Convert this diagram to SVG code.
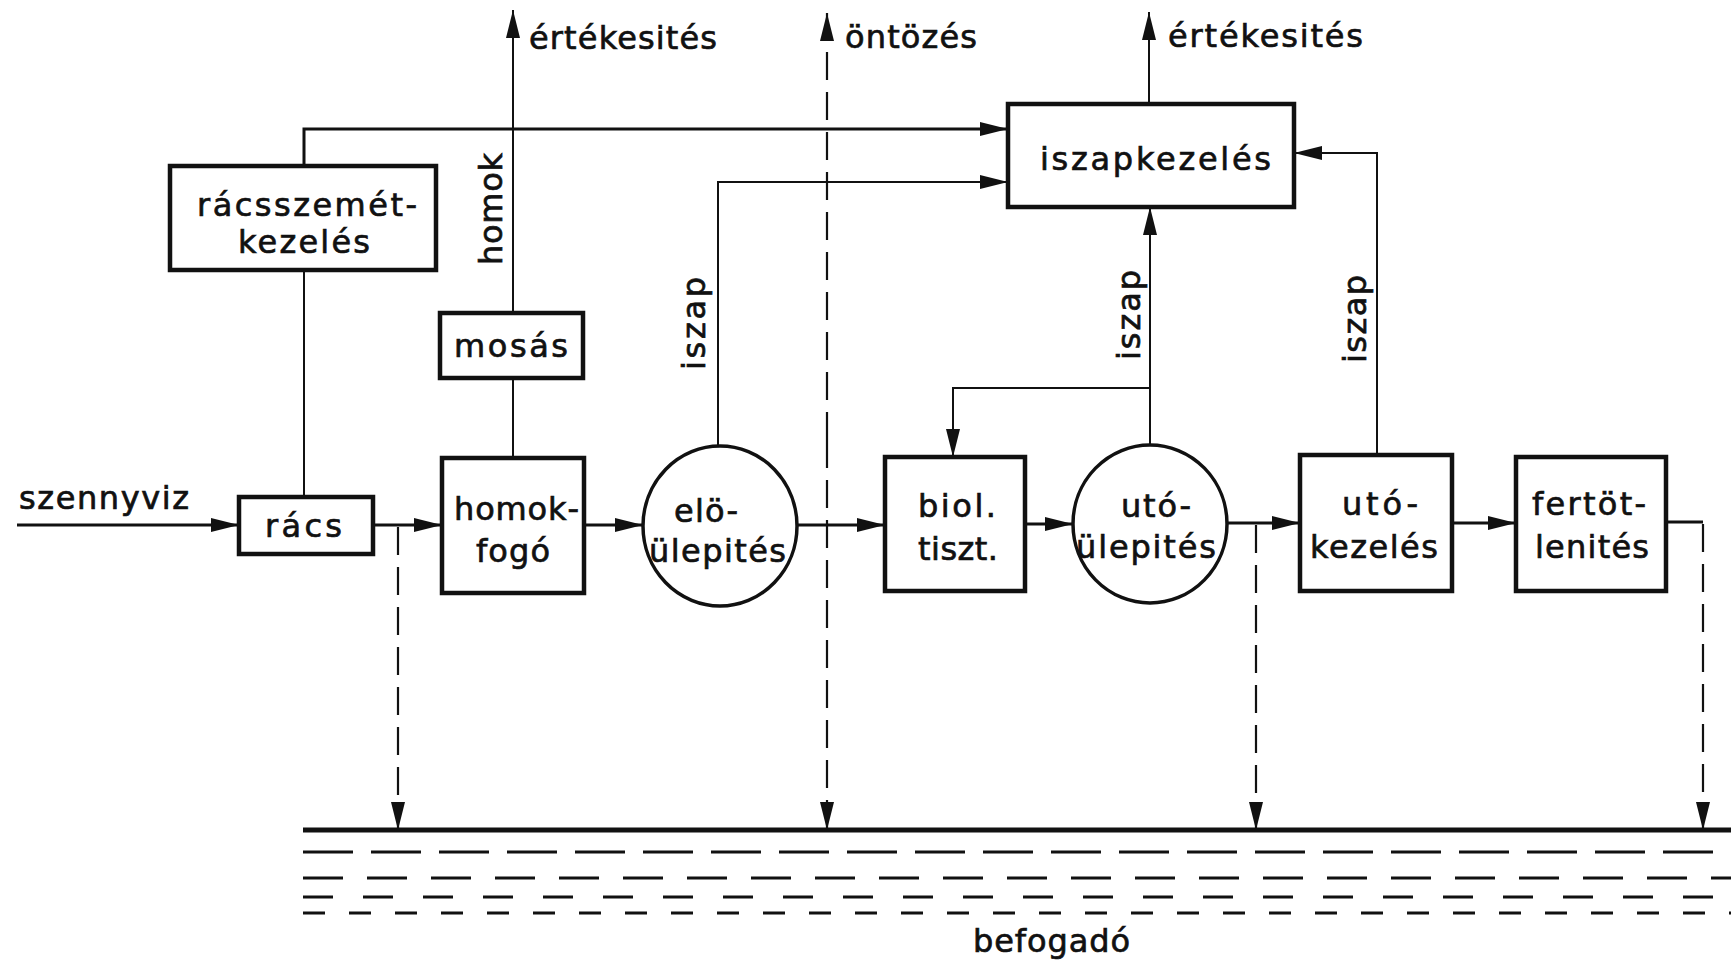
<svg xmlns="http://www.w3.org/2000/svg" width="1731" height="962" viewBox="0 0 1731 962">
<style>
.box{fill:#fff;stroke:#111;stroke-width:4.5}
.ell{fill:#fff;stroke:#111;stroke-width:3.5}
.t{font-family:"DejaVu Sans","Liberation Sans",sans-serif;font-size:32px;fill:#111;stroke:#111;stroke-width:0.7}
.flow{fill:none;stroke:#111;stroke-width:3}
.thin{fill:none;stroke:#111;stroke-width:2}
.dash{fill:none;stroke:#111;stroke-width:2.2;stroke-dasharray:28 12}
.water{fill:none;stroke:#111;stroke-width:3}
</style>
<defs>
<marker id="arr" viewBox="0 0 28 14" refX="28" refY="7" markerWidth="28" markerHeight="14" markerUnits="userSpaceOnUse" orient="auto">
<path d="M0,0 L28,7 L0,14 z" fill="#111"/>
</marker>
</defs>
<rect x="0" y="0" width="1731" height="962" fill="#fff"/>

<g id="connectors">
<path class="flow" d="M17,525 H239" marker-end="url(#arr)"/>
<path class="flow" d="M373,525 H442" marker-end="url(#arr)"/>
<path class="flow" d="M584,525 H643" marker-end="url(#arr)"/>
<path class="flow" d="M797,525 H885" marker-end="url(#arr)"/>
<path class="flow" d="M1025,524 H1073" marker-end="url(#arr)"/>
<path class="flow" d="M1227,523 H1300" marker-end="url(#arr)"/>
<path class="flow" d="M1452,523 H1516" marker-end="url(#arr)"/>
<path class="flow" d="M1666,522 H1703"/>
<path class="dash" d="M1703,524 V830" marker-end="url(#arr)"/>
<path class="dash" d="M398,527 V830" marker-end="url(#arr)"/>
<path class="dash" d="M1256,525 V830" marker-end="url(#arr)"/>
<path class="dash" d="M827,440 V13" marker-end="url(#arr)"/>
<path class="dash" d="M827,440 V830" marker-end="url(#arr)"/>
<path class="thin" d="M304,497 V271"/>
<path class="flow" d="M304,166 V129 H1008" marker-end="url(#arr)"/>
<path class="thin" d="M513,458 V378"/>
<path class="thin" d="M513,313 V10" marker-end="url(#arr)"/>
<path class="thin" d="M718,446 V182 H1008" marker-end="url(#arr)"/>
<path class="thin" d="M1150,445 V207" marker-end="url(#arr)"/>
<path class="thin" d="M1150,388 H953 V457" marker-end="url(#arr)"/>
<path class="thin" d="M1377,455 V153 H1294" marker-end="url(#arr)"/>
<path class="thin" d="M1149,104 V12" marker-end="url(#arr)"/>
</g>

<g id="labels">
<text class="t" x="529" y="49" textLength="188" lengthAdjust="spacing">értékesités</text>
<text class="t" x="845" y="48" textLength="132" lengthAdjust="spacing">öntözés</text>
<text class="t" x="1168" y="47" textLength="195" lengthAdjust="spacing">értékesités</text>
<text class="t" x="19" y="509" textLength="170" lengthAdjust="spacing">szennyviz</text>
<text class="t" transform="translate(502,265) rotate(-90)" textLength="112" lengthAdjust="spacing">homok</text>
<text class="t" transform="translate(705,370) rotate(-90)" textLength="93" lengthAdjust="spacing">iszap</text>
<text class="t" transform="translate(1140,360) rotate(-90)" textLength="90" lengthAdjust="spacing">iszap</text>
<text class="t" transform="translate(1366,363) rotate(-90)" textLength="88" lengthAdjust="spacing">iszap</text>
</g>

<g id="racsszemet-kezeles">
<rect class="box" x="170" y="166" width="266" height="104"/>
<text class="t" x="197" y="216" textLength="220" lengthAdjust="spacing">rácsszemét-</text>
<text class="t" x="238" y="253" textLength="132" lengthAdjust="spacing">kezelés</text>
</g>
<g id="mosas">
<rect class="box" x="440" y="313" width="143" height="65"/>
<text class="t" x="454" y="357" textLength="114" lengthAdjust="spacing">mosás</text>
</g>
<g id="racs">
<rect class="box" x="239" y="497" width="134" height="57"/>
<text class="t" x="265" y="537" textLength="77" lengthAdjust="spacing">rács</text>
</g>
<g id="homokfogo">
<rect class="box" x="442" y="458" width="142" height="135"/>
<text class="t" x="454" y="520" textLength="125" lengthAdjust="spacing">homok-</text>
<text class="t" x="476" y="562" textLength="74" lengthAdjust="spacing">fogó</text>
</g>
<g id="eloulepites">
<ellipse class="ell" cx="720" cy="526" rx="77" ry="80"/>
<text class="t" x="674" y="522" textLength="64" lengthAdjust="spacing">elö-</text>
<text class="t" x="649" y="562" textLength="137" lengthAdjust="spacing">ülepités</text>
</g>
<g id="biol-tiszt">
<rect class="box" x="885" y="457" width="140" height="134"/>
<text class="t" x="918" y="517" textLength="78" lengthAdjust="spacing">biol.</text>
<text class="t" x="918" y="560" textLength="80" lengthAdjust="spacing">tiszt.</text>
</g>
<g id="utoulepites">
<ellipse class="ell" cx="1150" cy="524" rx="77" ry="79"/>
<text class="t" x="1121" y="517" textLength="70" lengthAdjust="spacing">utó-</text>
<text class="t" x="1076" y="558" textLength="140" lengthAdjust="spacing">ülepités</text>
</g>
<g id="utokezeles">
<rect class="box" x="1300" y="455" width="152" height="136"/>
<text class="t" x="1342" y="515" textLength="76" lengthAdjust="spacing">utó-</text>
<text class="t" x="1310" y="558" textLength="128" lengthAdjust="spacing">kezelés</text>
</g>
<g id="fertotlenites">
<rect class="box" x="1516" y="457" width="150" height="134"/>
<text class="t" x="1532" y="515" textLength="114" lengthAdjust="spacing">fertöt-</text>
<text class="t" x="1535" y="558" textLength="114" lengthAdjust="spacing">lenités</text>
</g>
<g id="iszapkezeles">
<rect class="box" x="1008" y="104" width="286" height="103"/>
<text class="t" x="1040" y="170" textLength="231" lengthAdjust="spacing">iszapkezelés</text>
</g>
<g id="befogado">
<path d="M303,830 H1731" fill="none" stroke="#111" stroke-width="5"/>
<path class="water" d="M303,852 H1731" stroke-dasharray="50 18"/>
<path class="water" d="M303,878 H1731" stroke-dasharray="40 24"/>
<path class="water" d="M303,897 H1731" stroke-dasharray="30 30"/>
<path class="water" d="M303,913 H1731" stroke-dasharray="22 24"/>
<text class="t" x="973" y="952" textLength="157" lengthAdjust="spacing">befogadó</text>
</g>
</svg>
